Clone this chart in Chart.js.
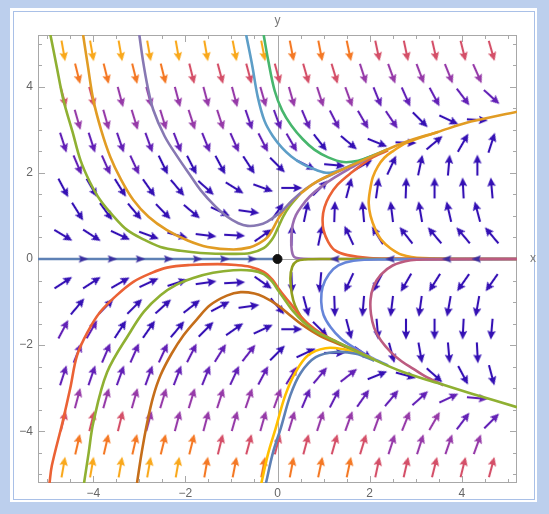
<!DOCTYPE html>
<html>
<head>
<meta charset="utf-8">
<script src="https://cdn.jsdelivr.net/npm/chart.js@4.4.1/dist/chart.umd.min.js"></script>
<style>
  html, body { margin: 0; padding: 0; }
  body { width: 549px; height: 514px; background: #bccfed; position: relative; overflow: hidden; }
  #panel { position: absolute; left: 10px; top: 8px; width: 527px; height: 494px; background: #fff; }
  #rule { position: absolute; left: 13px; top: 11px; width: 520px; height: 487px; border: 1.5px solid #a9c0e7; }
  #plot { position: absolute; left: 0; top: 0; }
</style>
</head>
<body>
<div id="panel"></div>
<div id="rule"></div>
<canvas id="plot" width="549" height="514"></canvas>
<script>
// arrow grid columns (rows alternate between the two sets)
const colsHalf = [-4.65, -4.03, -3.41, -2.79, -2.17, -1.55, -0.93, -0.31, 0.31, 0.93, 1.55, 2.17, 2.79, 3.41, 4.03, 4.65];
const colsInt = [-4.34, -3.72, -3.1, -2.48, -1.86, -1.24, -0.62, 0, 0.62, 1.24, 1.86, 2.48, 3.1, 3.72, 4.34];
const arrowRowY = [4.83, 4.3, 3.76, 3.23, 2.7, 2.18, 1.65, 1.1, 0.55, -0.55, -1.1, -1.63, -2.18, -2.7, -3.23, -3.76, -4.3, -4.83];

// arrow direction in degrees (counter-clockwise from +x), one list per row
const arrowAngles = [
  [-80, -80, -80, -80, -80, -80, -79, -79, -79, -79, -78, -78, -78, -77, -76, -74],
  [-76, -76, -76, -76, -76, -75, -75, -75, -74, -73, -72, -70, -69, -68, -66],
  [-75, -75, -75, -75, -75, -75, -75, -74, -74, -72, -70, -68, -66, -62, -53, -42],
  [-74, -74, -73, -73, -72, -72, -71, -70, -67, -63, -60, -56, -45, -25, -3],
  [-72, -72, -71, -70, -69, -68, -66, -63, -60, -52, -40, -22, -2, 40, 60, 72],
  [-67, -66, -65, -64, -63, -62, -57, -45, -27, -5, 30, 65, 78, 85, 90],
  [-62, -60, -58, -55, -50, -42, -32, -20, 0, 45, 75, 82, 88, 90, 93, 95],
  [-58, -54, -50, -46, -40, -25, -8, 55, 78, 88, 95, 97, 100, 103, 105],
  [-31, -33, -25, -20, -15, -7, -3, 35, 88, 78, 115, 122, 128, 130, 130, 130],
  [33, 33, 30, 25, 18, 8, 3, -35, -88, -95, -115, -118, -120, -122, -125, -125],
  [50, 46, 45, 42, 38, 28, 8, -50, -75, -88, -95, -97, -98, -100, -100],
  [62, 60, 57, 55, 50, 45, 35, 25, 0, -45, -75, -85, -90, -90, -93, -95],
  [68, 67, 66, 65, 63, 58, 52, 45, 25, 0, -35, -75, -80, -85, -87],
  [72, 71, 70, 70, 69, 68, 65, 62, 58, 50, 38, 22, -15, -42, -62, -75],
  [75, 74, 74, 73, 73, 72, 71, 70, 67, 63, 55, 50, 42, 25, -5],
  [76, 76, 76, 75, 75, 75, 74, 74, 73, 72, 70, 70, 68, 60, 53, 45],
  [77, 77, 77, 76, 76, 76, 75, 75, 75, 74, 73, 72, 72, 71, 70],
  [80, 80, 80, 80, 80, 80, 79, 79, 79, 78, 78, 78, 77, 76, 76, 75]
];

// speed shade of each arrow: 0 slow (indigo) .. 5 fast (gold)
const arrowShade = [
  [5, 5, 5, 5, 5, 5, 5, 5, 4, 4, 4, 3, 3, 3, 3, 3],
  [4, 4, 4, 4, 3, 3, 3, 3, 3, 3, 2, 2, 2, 2, 2],
  [3, 3, 2, 2, 2, 2, 2, 2, 2, 2, 2, 1, 1, 1, 1, 1],
  [2, 2, 2, 2, 2, 2, 1, 1, 1, 1, 1, 1, 0, 0, 0],
  [1, 1, 1, 1, 1, 1, 1, 1, 1, 0, 0, 0, 0, 0, 0, 0],
  [1, 1, 1, 0, 0, 0, 0, 0, 0, 0, 0, 0, 0, 0, 0],
  [0, 0, 0, 0, 0, 0, 0, 0, 0, 0, 0, 0, 0, 0, 0, 0],
  [0, 0, 0, 0, 0, 0, 0, 0, 0, 0, 0, 0, 0, 0, 0],
  [0, 0, 0, 0, 0, 0, 0, 0, 0, 0, 0, 0, 0, 0, 0, 0],
  [0, 0, 0, 0, 0, 0, 0, 0, 0, 0, 0, 0, 0, 0, 0, 0],
  [0, 0, 0, 0, 0, 0, 0, 0, 0, 0, 0, 0, 0, 0, 0],
  [1, 1, 0, 0, 0, 0, 0, 0, 0, 0, 0, 0, 0, 0, 0, 0],
  [1, 1, 1, 1, 1, 1, 1, 0, 0, 0, 0, 0, 0, 0, 0],
  [1, 1, 1, 1, 1, 1, 1, 1, 1, 1, 1, 0, 0, 0, 0, 0],
  [2, 2, 2, 2, 2, 2, 2, 2, 1, 1, 1, 1, 1, 1, 1],
  [3, 3, 3, 2, 2, 2, 2, 2, 2, 2, 2, 2, 2, 2, 1, 1],
  [4, 4, 4, 4, 4, 3, 3, 3, 3, 3, 3, 2, 2, 2, 2],
  [5, 5, 5, 5, 5, 4, 4, 4, 4, 4, 4, 3, 3, 3, 3, 3]
];

// small arrowheads sitting on the x axis
const axisArrowsLeft = [-4.22, -3.59, -2.98, -2.37, -1.74, -1.15, -0.55];
const axisArrowsRight = [1.25, 2.45, 3.68, 4.32];

// streamlines
const lineAxisLeft = [[-5.2, 0], [0, 0]];
const topOlive = [[-4.93, 5.2], [-4.8, 4.5], [-4.65, 3.7], [-4.45, 2.95], [-4.28, 2.3], [-4.08, 1.8], [-3.85, 1.37], [-3.55, 0.98], [-3.26, 0.67], [-2.9, 0.45], [-2.54, 0.28], [-2.1, 0.19], [-1.67, 0.14], [-1.0, 0.12], [-0.59, 0.14], [-0.3, 0.25], [-0.12, 0.45], [0.0, 0.7], [0.12, 0.98], [0.26, 1.22], [0.5, 1.52]];
const topGold = [[-4.22, 5.2], [-4.12, 4.5], [-4.0, 3.7], [-3.83, 3.0], [-3.63, 2.37], [-3.4, 1.85], [-3.13, 1.37], [-2.8, 0.98], [-2.4, 0.67], [-1.95, 0.43], [-1.52, 0.28], [-0.96, 0.22], [-0.6, 0.27], [-0.4, 0.36], [-0.22, 0.5], [-0.09, 0.72], [0.03, 0.96], [0.22, 1.24], [0.5, 1.52]];
const topLavender = [[-3.0, 5.2], [-2.92, 4.6], [-2.82, 4.0], [-2.7, 3.47], [-2.45, 2.85], [-2.17, 2.37], [-1.9, 1.95], [-1.67, 1.6], [-1.35, 1.22], [-1.09, 0.98], [-0.85, 0.83], [-0.65, 0.77], [-0.42, 0.79], [-0.22, 0.87], [0.07, 1.09], [0.33, 1.37], [0.6, 1.62], [0.9, 1.82], [1.2, 1.97], [1.5, 2.12]];
const topBlue = [[-0.68, 5.2], [-0.55, 4.5], [-0.43, 3.77], [-0.28, 3.2], [-0.1, 2.85], [0.1, 2.58], [0.3, 2.38], [0.55, 2.2], [0.83, 2.07], [1.1, 2.0], [1.37, 2.07], [1.6, 2.18], [2.02, 2.38]];
const topGreen = [[-0.3, 5.2], [-0.2, 4.6], [-0.06, 3.9], [0.1, 3.45], [0.3, 3.1], [0.55, 2.78], [0.8, 2.54], [1.1, 2.36], [1.43, 2.25], [1.75, 2.28], [2.02, 2.38], [2.4, 2.55]];
const topPurple = [[5.2, 0], [1.0, 0], [0.5, 0.01], [0.36, 0.05], [0.31, 0.2], [0.3, 0.5], [0.33, 0.8], [0.4, 1.02], [0.52, 1.22], [0.7, 1.45], [0.95, 1.68], [1.25, 1.9], [1.6, 2.12], [2.02, 2.37]];
const topRed = [[5.2, 0], [2.6, 0.01], [2.0, 0.02], [1.52, 0.09], [1.25, 0.2], [1.1, 0.4], [1.0, 0.67], [0.98, 0.95], [1.02, 1.2], [1.12, 1.45], [1.3, 1.72], [1.6, 2.0], [2.02, 2.33], [2.4, 2.52]];
const topGoldRight = [[5.2, 0], [4.2, 0], [3.15, 0.02], [2.7, 0.1], [2.45, 0.25], [2.25, 0.45], [2.12, 0.7], [2.02, 1.0], [1.98, 1.3], [2.01, 1.6], [2.07, 1.9], [2.18, 2.15], [2.32, 2.35], [2.5, 2.5], [2.8, 2.7], [3.48, 2.95]];
const trunkTop = [[0.5, 1.52], [0.8, 1.76], [1.1, 1.93], [1.5, 2.12], [2.02, 2.37], [2.74, 2.7], [3.48, 2.95], [4.2, 3.19], [5.2, 3.42]];
const botRed = [[-4.95, -5.2], [-4.9, -4.8], [-4.67, -3.8], [-4.5, -3.0], [-4.35, -2.23], [-4.1, -1.65], [-3.85, -1.23], [-3.5, -0.85], [-3.13, -0.53], [-2.75, -0.33], [-2.4, -0.2], [-1.9, -0.14], [-1.3, -0.12], [-0.9, -0.14], [-0.6, -0.18], [-0.3, -0.3], [-0.12, -0.47], [0, -0.65], [0.14, -0.85], [0.28, -1.03], [0.5, -1.33], [0.8, -1.62], [1.2, -1.88], [1.7, -2.13], [2.02, -2.3]];
const botBrown = [[-3.05, -5.2], [-2.95, -4.5], [-2.83, -3.8], [-2.7, -3.2], [-2.54, -2.7], [-2.3, -2.2], [-2.04, -1.77], [-1.75, -1.4], [-1.46, -1.07], [-1.1, -0.85], [-0.8, -0.77], [-0.5, -0.8], [-0.3, -0.88], [0, -1.07], [0.3, -1.33], [0.54, -1.53], [0.9, -1.77], [1.3, -1.96], [1.7, -2.13]];
const botYellow = [[-0.35, -5.2], [-0.2, -4.5], [-0.04, -3.93], [0.17, -3.16], [0.39, -2.63], [0.67, -2.23], [1.04, -2.07], [1.41, -2.09], [1.8, -2.2], [2.1, -2.33]];
const botBlue = [[-0.25, -5.2], [-0.1, -4.5], [0.07, -3.93], [0.28, -3.16], [0.5, -2.65], [0.83, -2.28], [1.26, -2.16], [1.7, -2.2], [2.1, -2.36]];
const botOliveNear = [[5.2, 0], [1.0, 0], [0.6, -0.01], [0.42, -0.05], [0.32, -0.18], [0.28, -0.45], [0.31, -0.8], [0.38, -1.08], [0.5, -1.32], [0.68, -1.55], [0.95, -1.76], [1.3, -1.94], [1.8, -2.18]];
const botBlueRight = [[5.2, 0], [2.3, -0.01], [1.65, -0.04], [1.32, -0.15], [1.12, -0.35], [0.98, -0.65], [0.95, -1.0], [1.0, -1.3], [1.15, -1.58], [1.37, -1.84], [1.65, -2.05], [2.02, -2.28], [2.4, -2.47]];
const botMauve = [[5.2, 0], [3.3, -0.01], [2.89, -0.03], [2.5, -0.15], [2.24, -0.37], [2.08, -0.65], [2.02, -0.95], [2.03, -1.28], [2.1, -1.6], [2.25, -1.9], [2.46, -2.16], [2.7, -2.38], [2.95, -2.55], [3.2, -2.72], [3.6, -2.93]];
const botOlive = [[-4.2, -5.2], [-4.1, -4.5], [-4.0, -3.8], [-3.7, -2.63], [-3.2, -1.7], [-2.9, -1.22], [-2.54, -0.84], [-2.2, -0.6], [-1.83, -0.44], [-1.4, -0.32], [-0.96, -0.26], [-0.55, -0.27], [-0.3, -0.35], [-0.12, -0.52], [0.02, -0.74], [0.18, -0.98], [0.33, -1.2], [0.55, -1.45], [0.83, -1.68], [1.3, -1.93], [2.02, -2.3], [2.74, -2.63], [3.48, -2.88], [4.2, -3.12], [5.2, -3.44]];

const majorTicks = [-4, -2, 0, 2, 4];
const minorTicks = [-5, -4.5, -4, -3.5, -3, -2.5, -2, -1.5, -1, -0.5, 0, 0.5, 1, 1.5, 2, 2.5, 3, 3.5, 4, 4.5, 5];

// colours, drawing order is bottom to top
const shadeColors = ['#3410b4', '#6220b6', '#963aa8', '#d44f68', '#f47824', '#f9a81b'];
const streamStyles = [
  [lineAxisLeft, '#5e81b5'],
  [topGoldRight, '#eea21f'],
  [topRed, '#eb6235'],
  [topPurple, '#9a6cb0'],
  [botOliveNear, '#929f1e'],
  [botBlueRight, '#6685d9'],
  [botMauve, '#bc5b80'],
  [topOlive, '#8fb032'],
  [topGold, '#e19c24'],
  [topLavender, '#8778b3'],
  [topBlue, '#5d9ec7'],
  [topGreen, '#47b66d'],
  [trunkTop, '#e19c24'],
  [botRed, '#eb6235'],
  [botBrown, '#c56e1a'],
  [botYellow, '#ffbf00'],
  [botBlue, '#5e81b5'],
  [botOlive, '#8fb032']
];

function makeArrow(color, len) {
  const c = document.createElement('canvas');
  c.width = len + 2;
  c.height = 12;
  const g = c.getContext('2d');
  g.strokeStyle = color;
  g.fillStyle = color;
  g.lineWidth = 2.1;
  g.beginPath();
  g.moveTo(1, 6);
  g.lineTo(len - 6, 6);
  g.stroke();
  g.beginPath();
  g.moveTo(len + 1, 6);
  g.lineTo(len - 8, 1.8);
  g.lineTo(len - 6.5, 6);
  g.lineTo(len - 8, 10.2);
  g.closePath();
  g.fill();
  return c;
}

function makeHead(color) {
  const c = document.createElement('canvas');
  c.width = 11;
  c.height = 9;
  const g = c.getContext('2d');
  g.fillStyle = color;
  g.beginPath();
  g.moveTo(10.5, 4.5);
  g.lineTo(1, 0.8);
  g.lineTo(2.8, 4.5);
  g.lineTo(1, 8.2);
  g.closePath();
  g.fill();
  return c;
}

const arrowSprites = shadeColors.map(col => makeArrow(col, 21));
const headSprite = makeHead('#3a2ea0');

function toPts(arr) {
  return arr.map(p => ({ x: p[0], y: p[1] }));
}

let arrowData = [];
arrowRowY.forEach((y, r) => {
  const cols = arrowAngles[r].length === 16 ? colsHalf : colsInt;
  cols.forEach((x, c) => {
    arrowData.push({ x: x, y: y, a: arrowAngles[r][c], s: arrowShade[r][c] });
  });
});

let axisData = [];
axisArrowsLeft.forEach(x => axisData.push({ x: x, y: 0, a: 0 }));
axisArrowsRight.forEach(x => axisData.push({ x: x, y: 0, a: 180 }));

let datasets = [];
datasets.push({
  data: arrowData,
  order: 1000,
  pointRadius: 5,
  pointStyle: ctx => arrowSprites[ctx.raw.s],
  rotation: ctx => -ctx.raw.a
});
streamStyles.forEach((st, i) => {
  datasets.push({
    data: toPts(st[0]),
    order: 500 - i,
    showLine: true,
    borderColor: st[1],
    borderWidth: 2.6,
    tension: 0.35,
    pointRadius: 0,
    clip: 0
  });
});
datasets.push({
  data: axisData,
  order: 5,
  pointRadius: 4,
  pointStyle: headSprite,
  rotation: ctx => -ctx.raw.a
});
datasets.push({
  data: [{ x: 0, y: 0 }],
  order: 0,
  pointRadius: 4.5,
  backgroundColor: '#111',
  borderColor: '#111'
});

const framePlugin = {
  id: 'frame',
  beforeDatasetsDraw(chart) {
    const { ctx, chartArea: area } = chart;
    const sx = chart.scales.x, sy = chart.scales.y;
    ctx.save();
    ctx.strokeStyle = '#a8a8a8';
    ctx.lineWidth = 1;
    const x0 = Math.round(sx.getPixelForValue(0)) + 0.5;
    const y0 = Math.round(sy.getPixelForValue(0)) + 0.5;
    ctx.beginPath();
    ctx.moveTo(x0, area.top);
    ctx.lineTo(x0, area.bottom);
    ctx.moveTo(area.left, y0);
    ctx.lineTo(area.right, y0);
    ctx.stroke();
    ctx.strokeRect(area.left + 0.5, area.top + 0.5, area.width - 1, area.height - 1);
    ctx.beginPath();
    minorTicks.forEach(v => {
      const len = majorTicks.includes(v) ? 7 : 4;
      const px = Math.round(sx.getPixelForValue(v)) + 0.5;
      const py = Math.round(sy.getPixelForValue(v)) + 0.5;
      ctx.moveTo(px, area.bottom);
      ctx.lineTo(px, area.bottom - len);
      ctx.moveTo(px, area.top);
      ctx.lineTo(px, area.top + len);
      ctx.moveTo(area.left, py);
      ctx.lineTo(area.left + len, py);
      ctx.moveTo(area.right, py);
      ctx.lineTo(area.right - len, py);
    });
    ctx.stroke();
    ctx.restore();
  },
  afterDraw(chart) {
    const { ctx, chartArea: area } = chart;
    const sx = chart.scales.x, sy = chart.scales.y;
    ctx.save();
    ctx.fillStyle = '#666';
    ctx.font = '12px "Liberation Sans", Arial, sans-serif';
    ctx.textBaseline = 'middle';
    majorTicks.forEach(v => {
      const txt = v < 0 ? '\u2212' + Math.abs(v) : String(v);
      ctx.textAlign = 'center';
      ctx.fillText(txt, sx.getPixelForValue(v), area.bottom + 11);
      ctx.textAlign = 'right';
      ctx.fillText(txt, area.left - 5, sy.getPixelForValue(v));
    });
    ctx.fillStyle = '#777';
    ctx.textAlign = 'center';
    ctx.fillText('y', sx.getPixelForValue(0), area.top - 14);
    ctx.fillText('x', area.right + 16, sy.getPixelForValue(0));
    ctx.restore();
  }
};

new Chart(document.getElementById('plot'), {
  type: 'scatter',
  data: { datasets: datasets },
  options: {
    responsive: false,
    animation: false,
    devicePixelRatio: 1,
    layout: { padding: { left: 38, top: 35, right: 32, bottom: 31 } },
    scales: {
      x: { type: 'linear', min: -5.2, max: 5.2, display: false },
      y: { type: 'linear', min: -5.2, max: 5.2, display: false }
    },
    plugins: { legend: { display: false }, tooltip: { enabled: false } }
  },
  plugins: [framePlugin]
});
</script>
</body>
</html>
